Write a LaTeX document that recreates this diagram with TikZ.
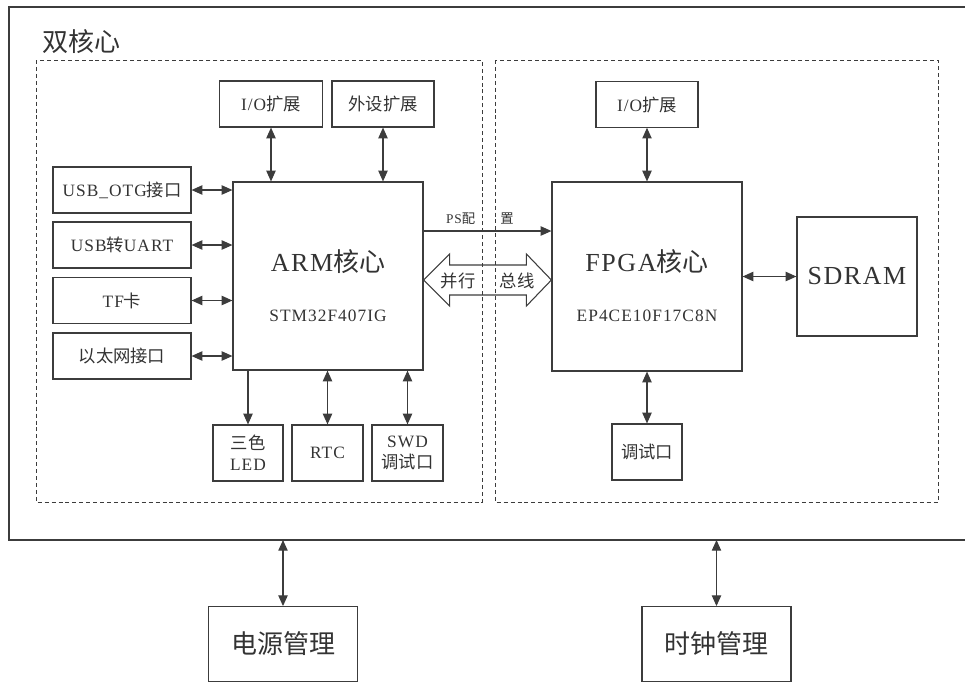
\documentclass[tikz,border=0pt]{standalone}
\usepackage{fontspec}
\setmainfont[LetterSpace=6]{Liberation Serif}
\newfontfamily\cjk{Noto Sans CJK SC}
\usepackage{xcolor}
\usetikzlibrary{arrows.meta,calc}
\definecolor{ln}{HTML}{3C3C3C}
\definecolor{tx}{HTML}{333333}
\newcommand{\zh}[1]{{\cjk #1}}
\newcommand{\fsm}{\fontsize{13pt}{15pt}\selectfont}
\newcommand{\fbig}{\fontsize{19.5pt}{22pt}\selectfont}
\newcommand{\fps}{\fontsize{10pt}{12pt}\selectfont}
\tikzset{
	blk/.style={draw=ln, line width=0.9pt, inner sep=0pt, align=center, text=tx, font=\fsm},
	lbl/.style={inner sep=0pt, text=tx},
	cnx/.style={draw=ln, line width=0.8pt},
	area/.style={draw=ln, line width=0.6pt, dash pattern=on 3pt off 2.2pt},
	>={Triangle[length=8pt,width=7pt]}
}

\begin{document}
\begin{tikzpicture}[x=0.75pt,y=0.75pt,yscale=-1,xscale=1]
	\useasboundingbox (0,0) rectangle (965,683);
	
	%Shape: Rectangle [outer]
	\draw [draw=ln, line width=0.9pt] (9,7) rectangle (972,540);
	\coordinate (sysb) at (0,540);
	% Text Node
	\node [lbl, anchor=west, font=\fbig\cjk] (title) at (42,42) {双核心};
	%Shape: Dashed areas
	\draw [area] (36,60) rectangle (482,502);
	\draw [area] (495,60) rectangle (938,502);
	
	%ARM side
	\node [blk, minimum width=142.5pt, minimum height=141pt] (arm) at (328,276) {};
	\node [lbl, font=\fbig] (armt) at (328,262) {ARM\zh{核心}};
	\node [lbl, font=\fsm] (armc) at (328,316) {STM32F407IG};
	\node [blk, minimum width=77.25pt, minimum height=34.5pt] (io1) at (271,104) {I/O\zh{扩展}};
	\node [blk, minimum width=76.5pt, minimum height=34.5pt] (per) at (383,104) {\zh{外设扩展}};
	\node [blk, minimum width=103.5pt, minimum height=34.5pt] (usb) at (122,190) {USB\_OTG\zh{接口}};
	\node [blk, minimum width=103.5pt, minimum height=34.5pt] (uart) at (122,245) {USB\zh{转}UART};
	\node [blk, minimum width=103.5pt, minimum height=34.5pt] (tf) at (122,300.5) {TF\zh{卡}};
	\node [blk, minimum width=103.5pt, minimum height=34.5pt] (eth) at (122,356) {\zh{以太网接口}};
	\node [blk, minimum width=52.5pt, minimum height=42pt] (led) at (248,453) {\zh{三色}\\[1pt]LED};
	\node [blk, minimum width=53.25pt, minimum height=42pt] (rtc) at (327.5,453) {RTC};
	\node [blk, minimum width=53.25pt, minimum height=42pt] (swd) at (407.5,453) {SWD\\[1pt]\zh{调试口}};
	
	%FPGA side
	\node [blk, minimum width=142.5pt, minimum height=141.75pt] (fpga) at (647,276.5) {};
	\node [lbl, font=\fbig] (fpgat) at (647,262) {FPGA\zh{核心}};
	\node [lbl, font=\fsm] (fpgac) at (647,316) {EP4CE10F17C8N};
	\node [blk, minimum width=76.5pt, minimum height=34pt] (fio) at (647,104.5) {I/O\zh{扩展}};
	\node [blk, minimum width=90pt, minimum height=89.25pt, font=\fbig] (sdram) at (857,276.5) {SDRAM};
	\node [blk, minimum width=52.5pt, minimum height=42pt] (fdbg) at (647,452) {\zh{调试口}};
	
	%Management
	\node [blk, minimum width=111.75pt, minimum height=56pt, font=\fbig\cjk] (pwr) at (283,644) {电源管理};
	\node [blk, minimum width=111.75pt, minimum height=56pt, font=\fbig\cjk] (clk) at (716.5,644) {时钟管理};
	
	%Straight Lines
	\draw [cnx, <->] (io1.south) -- (io1.south |- arm.north);
	\draw [cnx, <->] (per.south) -- (per.south |- arm.north);
	\foreach \n in {usb,uart,tf,eth}
		\draw [cnx, <->] (\n.east) -- (\n.east -| arm.west);
	\draw [cnx, ->] (led.north |- arm.south) -- (led.north);
	\draw [cnx, <->] (rtc.north |- arm.south) -- (rtc.north);
	\draw [cnx, <->] (swd.north |- arm.south) -- (swd.north);
	\draw [cnx, <->] (fio.south) -- (fio.south |- fpga.north);
	\draw [cnx, <->] (fpga.east) -- (sdram.west);
	\draw [cnx, <->] (fdbg.north) -- (fdbg.north |- fpga.south);
	\draw [cnx, <->] (pwr.north) -- (pwr.north |- sysb);
	\draw [cnx, <->] (clk.north) -- (clk.north |- sysb);
	
	%PS config
	\coordinate (ps) at (0,231);
	\draw [cnx, ->] (arm.east |- ps) -- (fpga.west |- ps);
	\node [lbl, font=\fps] (pslbl) at (480,219) {PS\zh{配}\hspace{19pt}\zh{置}};
	
	%Shape: parallel bus
	\coordinate (bl) at (arm.east |- 0,280);
	\coordinate (br) at (fpga.west |- 0,280);
	\draw [cnx] (bl) -- ++(26,-26) -- ++(0,11) -- ($(br)+(-25,-15)$) -- ++(0,-11) -- (br)
		-- ++(-25,26) -- ++(0,-11) -- ($(bl)+(26,15)$) -- ++(0,11) -- cycle;
	\node [lbl, font=\fsm\cjk] (busl) at (458,281) {并行};
	\node [lbl, font=\fsm\cjk] (busr) at (517,281) {总线};
	
\end{tikzpicture}
\end{document}
